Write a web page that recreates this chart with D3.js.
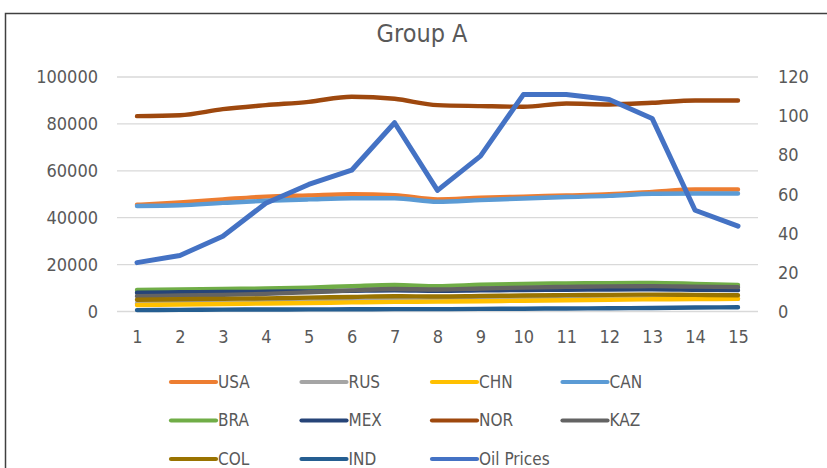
<!DOCTYPE html>
<html>
<head>
<meta charset="utf-8">
<script src="https://cdn.jsdelivr.net/npm/d3@7"></script>
<style>
  body { margin: 0; background: #fff; }
  text { fill: #595959; }
</style>
</head>
<body>
<script>
var periods = [1, 2, 3, 4, 5, 6, 7, 8, 9, 10, 11, 12, 13, 14, 15];

var usa = [45500, 46500, 47800, 49000, 49500, 50000, 49600, 47800, 48500, 49000, 49500, 50000, 51000, 52000, 52000];
var rus = [3400, 3600, 3800, 4000, 4300, 4600, 4800, 4800, 5000, 5200, 5400, 5500, 5600, 5500, 5400];
var chn = [2800, 3000, 3200, 3400, 3600, 3900, 4100, 4200, 4400, 4600, 4800, 5000, 5200, 5300, 5400];
var can = [45000, 45300, 46300, 47200, 47800, 48300, 48300, 46800, 47500, 48200, 48800, 49300, 50200, 50300, 50300];
var bra = [9200, 9400, 9600, 9800, 10200, 10800, 11300, 10800, 11400, 11800, 12000, 12100, 12200, 11800, 11300];
var mex = [8000, 8200, 8300, 8400, 8600, 8800, 9000, 8800, 9000, 9200, 9300, 9400, 9500, 9300, 9100];
var nor = [83300, 83700, 86300, 88000, 89400, 91600, 90700, 88000, 87600, 87300, 88700, 88300, 89000, 90000, 90000];
var kaz = [6500, 6800, 7100, 7500, 8200, 9000, 9600, 9400, 9800, 10200, 10500, 10700, 10800, 10600, 10400];
var col = [5000, 5200, 5400, 5600, 5900, 6200, 6500, 6400, 6600, 6800, 7000, 7100, 7200, 7100, 6900];
var ind = [600, 700, 800, 850, 900, 950, 1000, 1000, 1100, 1200, 1300, 1400, 1500, 1700, 1800];
var oilPrices = [25, 28.7, 38.5, 55.4, 65, 72.3, 96.6, 62, 79.5, 111, 111, 108.5, 98.8, 51.8, 43.7];

var leftTicks = [0, 20000, 40000, 60000, 80000, 100000];
var rightTicks = [0, 20, 40, 60, 80, 100, 120];

var series = [
  {name: "USA", values: usa, color: "#ED7D31"},
  {name: "RUS", values: rus, color: "#A5A5A5"},
  {name: "CHN", values: chn, color: "#FFC000"},
  {name: "CAN", values: can, color: "#5B9BD5"},
  {name: "BRA", values: bra, color: "#70AD47"},
  {name: "MEX", values: mex, color: "#264478"},
  {name: "NOR", values: nor, color: "#9E480E"},
  {name: "KAZ", values: kaz, color: "#636363"},
  {name: "COL", values: col, color: "#997300"},
  {name: "IND", values: ind, color: "#255E91"},
  {name: "Oil Prices", values: oilPrices, color: "#4472C4", right: true}
];

var W = 827, H = 468;
var font = "'DejaVu Sans Condensed', 'Liberation Sans', sans-serif";

var svg = d3.select("body").append("svg")
  .attr("width", W)
  .attr("height", H);

// outer frame of the chart (cut off on the right and bottom)
svg.append("rect")
  .attr("x", 5.5).attr("y", 13.5)
  .attr("width", 900).attr("height", 600)
  .attr("fill", "none")
  .attr("stroke", "#404040")
  .attr("stroke-width", 1.5);

svg.append("text")
  .attr("x", 422).attr("y", 42)
  .attr("text-anchor", "middle")
  .style("font-family", font)
  .style("font-size", "25px")
  .text("Group A");

var x = d3.scalePoint().domain(periods).range([137, 738]);
var yL = d3.scaleLinear().domain([0, 100000]).range([311.5, 77]);
var yR = d3.scaleLinear().domain([0, 120]).range([311.5, 77]);

// gridlines
svg.append("g").selectAll("line")
  .data(leftTicks)
  .join("line")
  .attr("x1", 117).attr("x2", 758)
  .attr("y1", d => yL(d)).attr("y2", d => yL(d))
  .attr("stroke", "#D9D9D9")
  .attr("stroke-width", 1.3);

var leftAxis = svg.append("g")
  .attr("transform", "translate(104,0)")
  .call(d3.axisLeft(yL).tickValues(leftTicks).tickFormat(d3.format("d")).tickSize(0).tickPadding(6));
var rightAxis = svg.append("g")
  .attr("transform", "translate(772,0)")
  .call(d3.axisRight(yR).tickValues(rightTicks).tickSize(0).tickPadding(6));
var bottomAxis = svg.append("g")
  .attr("transform", "translate(0,327)")
  .call(d3.axisBottom(x).tickSize(0).tickPadding(3));

[leftAxis, rightAxis, bottomAxis].forEach(function(a) {
  a.select(".domain").remove();
  a.selectAll("text")
    .style("font-family", font)
    .style("font-size", "18px")
    .attr("fill", "#595959");
});

var smooth = d3.line()
  .x((d, i) => x(periods[i]))
  .curve(d3.curveMonotoneX);
var straight = d3.line()
  .x((d, i) => x(periods[i]));

svg.append("g").selectAll("path")
  .data(series)
  .join("path")
  .attr("fill", "none")
  .attr("stroke", d => d.color)
  .attr("stroke-width", d => d.right ? 5 : 4.4)
  .attr("stroke-linecap", "round")
  .attr("stroke-linejoin", "round")
  .attr("d", d => d.right
    ? straight.y(v => yR(v))(d.values)
    : smooth.y(v => yL(v))(d.values));

// legend
var legend = svg.append("g").selectAll("g")
  .data(series)
  .join("g")
  .attr("transform", (d, i) => "translate(" + (170 + (i % 4) * 130.5) + "," + (382 + Math.floor(i / 4) * 38.5) + ")");

legend.append("line")
  .attr("x1", 1).attr("x2", 46)
  .attr("stroke", d => d.color)
  .attr("stroke-width", 4.2)
  .attr("stroke-linecap", "round");

legend.append("text")
  .attr("x", 48).attr("y", 0)
  .attr("dy", "0.35em")
  .style("font-family", font)
  .style("font-size", "17px")
  .text(d => d.name);
</script>
</body>
</html>
